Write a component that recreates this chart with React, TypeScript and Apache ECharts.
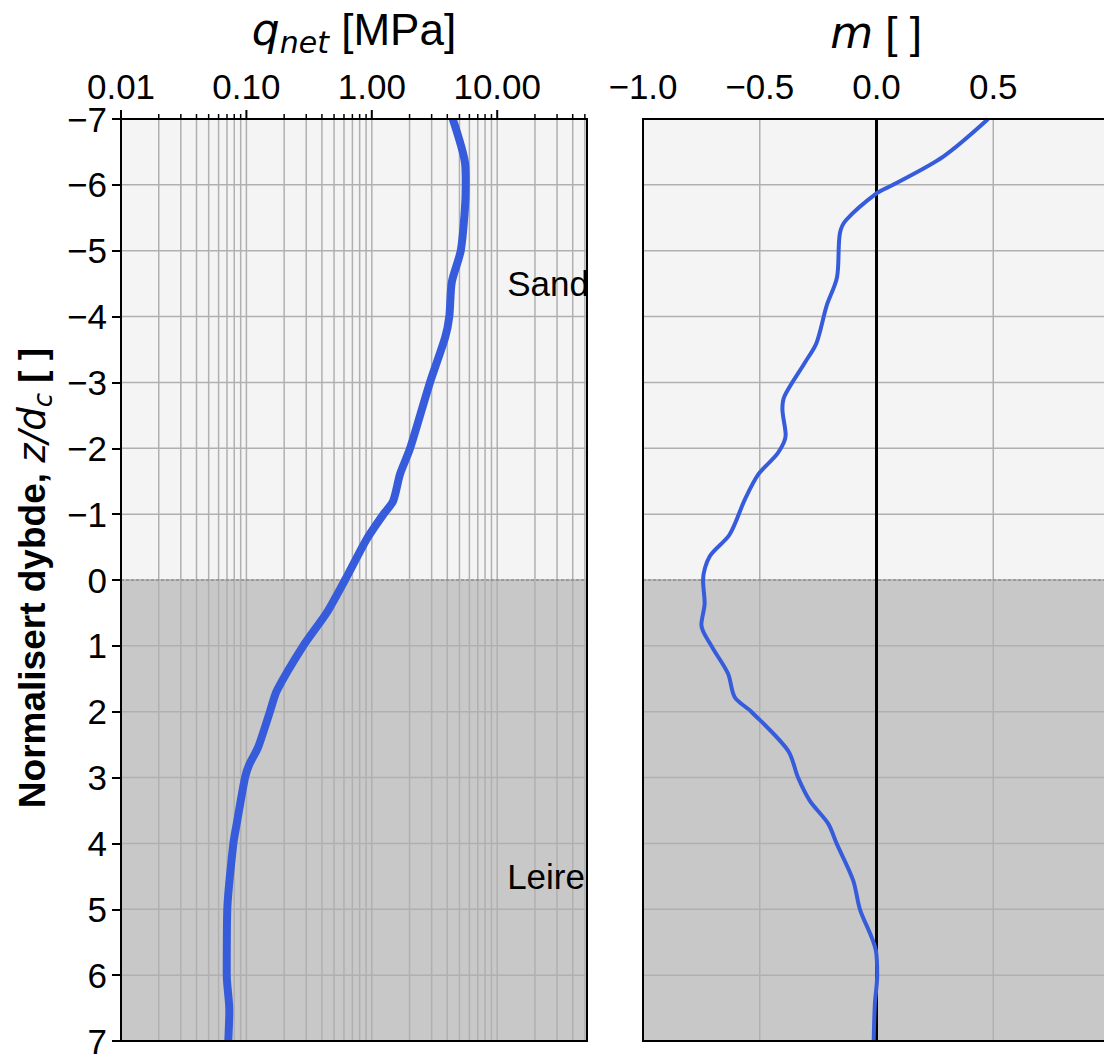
import React, { useEffect, useRef } from 'react';
import * as echarts from 'echarts';

// Depth (z/dc) and net cone resistance q_net [MPa]
const Z_QNET = [-7, -6.33, -6, -5.6, -5, -4.52, -4, -3.68, -3, -2, -1.61, -1.2, -1, -0.62, 0, 0.5, 1, 1.68, 2, 2.54, 2.8, 3, 3.7, 4, 5, 6, 6.53, 7];
const QNET = [4.42, 5.54, 5.61, 5.51, 5.12, 4.34, 4.15, 3.84, 2.91, 2.02, 1.68, 1.48, 1.24, 0.91, 0.611, 0.436, 0.284, 0.175, 0.154, 0.124, 0.1055, 0.0975, 0.0837, 0.0787, 0.0704, 0.0697, 0.0731, 0.0717];

// Depth (z/dc) and m [ ]
const Z_M = [-7, -6.43, -6, -5.87, -5.47, -5.26, -4.6, -4.16, -3.6, -3.3, -2.8, -2.6, -2.2, -1.93, -1.6, -1.22, -0.69, -0.36, 0, 0.35, 0.68, 1, 1.42, 1.78, 2, 2.59, 3, 3.35, 3.7, 4, 4.56, 5, 5.62, 6, 6.44, 7];
const M_VAL = [0.478, 0.286, 0.071, 0.0, -0.129, -0.157, -0.169, -0.214, -0.257, -0.307, -0.393, -0.403, -0.389, -0.422, -0.507, -0.564, -0.629, -0.714, -0.743, -0.736, -0.75, -0.707, -0.636, -0.607, -0.536, -0.379, -0.336, -0.286, -0.207, -0.171, -0.1, -0.071, -0.003, 0.003, -0.007, -0.012];

// Tick / grid values
const LOG_GRID_VALUES = [
  0.01, 0.02, 0.03, 0.04, 0.05, 0.06, 0.07, 0.08, 0.09,
  0.1, 0.2, 0.3, 0.4, 0.5, 0.6, 0.7, 0.8, 0.9,
  1, 2, 3, 4, 5, 6, 7, 8, 9,
  10, 20, 30, 40, 50,
];
const LOG_MAJOR = [0.01, 0.1, 1, 10];
const M_GRID_VALUES = [-1, -0.5, 0, 0.5, 1];
const DEPTH_TICKS = [-7, -6, -5, -4, -3, -2, -1, 0, 1, 2, 3, 4, 5, 6, 7];

// Layer annotations
const LAYER_NAMES = ['Sand', 'Leire'];
const LAYER_Q = [12, 12];
const LAYER_Z = [-4.5, 4.5];

const BLUE = '#365cdc';
const FONT = '"Liberation Sans", Arial, sans-serif';
const MATH = '"DejaVu Sans", sans-serif';
const GRID_COLOR = '#b0b0b0';

const minus = (s: string) => s.replace('-', '\u2212');

function makeDecor(isLog: boolean) {
  return (params: any, api: any) => {
    const cs = params.coordSys;
    const x0 = cs.x;
    const x1 = cs.x + cs.width;
    const yTop = cs.y;
    const yBot = cs.y + cs.height;
    const refX = isLog ? 1 : 0;
    const y0 = api.coord([refX, 0])[1];
    const children: any[] = [];
    children.push({ type: 'rect', shape: { x: x0, y: yTop, width: cs.width, height: y0 - yTop }, style: { fill: '#f4f4f4' } });
    children.push({ type: 'rect', shape: { x: x0, y: y0, width: cs.width, height: yBot - y0 }, style: { fill: '#c8c8c8' } });
    DEPTH_TICKS.forEach((z) => {
      const y = api.coord([refX, z])[1];
      if (y > yTop + 1 && y < yBot - 1) {
        children.push({ type: 'line', shape: { x1: x0, y1: y, x2: x1, y2: y }, style: { stroke: GRID_COLOR, lineWidth: 1.5 } });
      }
    });
    const xs = isLog ? LOG_GRID_VALUES : M_GRID_VALUES;
    xs.forEach((v) => {
      const x = api.coord([v, 0])[0];
      if (x > x0 + 1 && x < x1 - 1) {
        children.push({ type: 'line', shape: { x1: x, y1: yTop, x2: x, y2: yBot }, style: { stroke: GRID_COLOR, lineWidth: 1.5 } });
      }
      if (isLog) {
        const major = LOG_MAJOR.indexOf(v) >= 0;
        const len = major ? 9 : 5;
        children.push({ type: 'line', shape: { x1: x, y1: yTop, x2: x, y2: yTop - len }, style: { stroke: '#000', lineWidth: major ? 2 : 1.5 } });
      }
    });
    children.push({ type: 'line', shape: { x1: x0, y1: y0, x2: x1, y2: y0 }, style: { stroke: '#7a7a7a', lineWidth: 1, lineDash: [3, 2] } });
    if (!isLog) {
      const xz = api.coord([0, 0])[0];
      children.push({ type: 'line', shape: { x1: xz, y1: yTop, x2: xz, y2: yBot }, style: { stroke: '#000', lineWidth: 3 } });
    }
    return { type: 'group', children };
  };
}

export default function App() {
  const ref = useRef<HTMLDivElement>(null);
  useEffect(() => {
    document.body.style.margin = '0';
    if (!ref.current) return;
    const chart = echarts.init(ref.current, undefined, { renderer: 'svg' });
    const yAxisBase = {
      type: 'value',
      min: -7,
      max: 7,
      interval: 1,
      inverse: true,
      axisLine: { show: false },
      axisTick: { show: true, length: 9, inside: false, lineStyle: { color: '#000', width: 2 } },
      splitLine: { show: false },
    };
    const option: any = {
      animation: false,
      backgroundColor: '#ffffff',
      grid: [
        { left: 121, top: 119, width: 466, height: 922, show: true, backgroundColor: 'transparent', borderColor: '#000', borderWidth: 2, z: 10, containLabel: false, outerBoundsMode: 'none' },
        { left: 643, top: 119, width: 467, height: 922, show: true, backgroundColor: 'transparent', borderColor: '#000', borderWidth: 2, z: 10, containLabel: false, outerBoundsMode: 'none' },
      ],
      xAxis: [
        {
          type: 'log',
          logBase: 10,
          min: 0.01,
          max: 52,
          gridIndex: 0,
          position: 'top',
          axisLine: { show: false },
          axisTick: { show: false },
          splitLine: { show: false },
          axisLabel: {
            fontSize: 35,
            fontFamily: FONT,
            color: '#000',
            margin: 15,
            formatter: (v: number) => {
              const l = Math.log10(v);
              return Math.abs(l - Math.round(l)) < 1e-6 ? v.toFixed(2) : '';
            },
          },
        },
        {
          type: 'value',
          min: -1,
          max: 1,
          interval: 0.5,
          gridIndex: 1,
          position: 'top',
          axisLine: { show: false },
          axisTick: { show: true, length: 9, inside: false, lineStyle: { color: '#000', width: 2 } },
          splitLine: { show: false },
          axisLabel: {
            fontSize: 35,
            fontFamily: FONT,
            color: '#000',
            margin: 15,
            formatter: (v: number) => (v >= 0.999 ? '' : minus(v.toFixed(1))),
          },
        },
      ],
      yAxis: [
        {
          ...yAxisBase,
          gridIndex: 0,
          axisLabel: { fontSize: 35, fontFamily: FONT, color: '#000', margin: 14, formatter: (v: number) => minus(String(v)) },
        },
        {
          ...yAxisBase,
          gridIndex: 1,
          axisLabel: { show: false },
        },
      ],
      graphic: [
        {
          type: 'text',
          x: 354,
          y: 32,
          style: {
            text: '{i|q}{s|net}{r| [MPa]}',
            align: 'center',
            verticalAlign: 'middle',
            fill: '#000',
            rich: {
              i: { fontFamily: MATH, fontStyle: 'italic', fontSize: 44, color: '#000', padding: [0, 0, 6, 0], verticalAlign: 'bottom' },
              s: { fontFamily: MATH, fontStyle: 'italic', fontSize: 30, color: '#000', verticalAlign: 'bottom' },
              r: { fontFamily: FONT, fontSize: 44, color: '#000', padding: [0, 0, 6, 0], verticalAlign: 'bottom' },
            },
          },
        },
        {
          type: 'text',
          x: 876,
          y: 32,
          style: {
            text: '{i|m}{r| [ ]}',
            align: 'center',
            verticalAlign: 'middle',
            fill: '#000',
            rich: {
              i: { fontFamily: MATH, fontStyle: 'italic', fontSize: 44, color: '#000', verticalAlign: 'bottom' },
              r: { fontFamily: FONT, fontSize: 44, color: '#000', verticalAlign: 'bottom' },
            },
          },
        },
        {
          type: 'text',
          x: 35,
          y: 578,
          rotation: Math.PI / 2,
          style: {
            text: '{b|Normalisert dybde, }{i|z/d}{s|c}{b| [ ]}',
            align: 'center',
            verticalAlign: 'middle',
            fill: '#000',
            rich: {
              b: { fontFamily: FONT, fontWeight: 'bold', fontSize: 37, color: '#000', padding: [0, 0, 5, 0], verticalAlign: 'bottom' },
              i: { fontFamily: MATH, fontStyle: 'italic', fontSize: 37, color: '#000', padding: [0, 0, 5, 0], verticalAlign: 'bottom' },
              s: { fontFamily: MATH, fontStyle: 'italic', fontSize: 26, color: '#000', verticalAlign: 'bottom' },
            },
          },
        },
      ],
      series: [
        {
          type: 'custom',
          xAxisIndex: 0,
          yAxisIndex: 0,
          data: [[1, 0]],
          clip: false,
          silent: true,
          z: 1,
          renderItem: makeDecor(true),
        },
        {
          type: 'custom',
          xAxisIndex: 1,
          yAxisIndex: 1,
          data: [[0, 0]],
          clip: false,
          silent: true,
          z: 1,
          renderItem: makeDecor(false),
        },
        {
          type: 'custom',
          xAxisIndex: 0,
          yAxisIndex: 0,
          data: LAYER_Q.map((q, i) => [q, LAYER_Z[i]]),
          clip: false,
          silent: true,
          z: 4,
          renderItem: (params: any, api: any) => {
            const p = api.coord([api.value(0), api.value(1)]);
            return {
              type: 'text',
              x: p[0],
              y: p[1],
              style: {
                text: LAYER_NAMES[params.dataIndex],
                fill: '#000',
                font: `35px ${FONT}`,
                align: 'left',
                verticalAlign: 'middle',
              },
            };
          },
        },
        {
          type: 'line',
          xAxisIndex: 0,
          yAxisIndex: 0,
          data: QNET.map((q, i) => [q, Z_QNET[i]]),
          showSymbol: false,
          smooth: 0.25,
          lineStyle: { color: BLUE, width: 8 },
          z: 5,
          silent: true,
        },
        {
          type: 'line',
          xAxisIndex: 1,
          yAxisIndex: 1,
          data: M_VAL.map((m, i) => [m, Z_M[i]]),
          showSymbol: false,
          smooth: 0.3,
          lineStyle: { color: BLUE, width: 4 },
          z: 5,
          silent: true,
        },
      ],
    };
    chart.setOption(option);
    return () => chart.dispose();
  }, []);
  return <div ref={ref} style={{ width: 1104, height: 1054 }} />;
}
